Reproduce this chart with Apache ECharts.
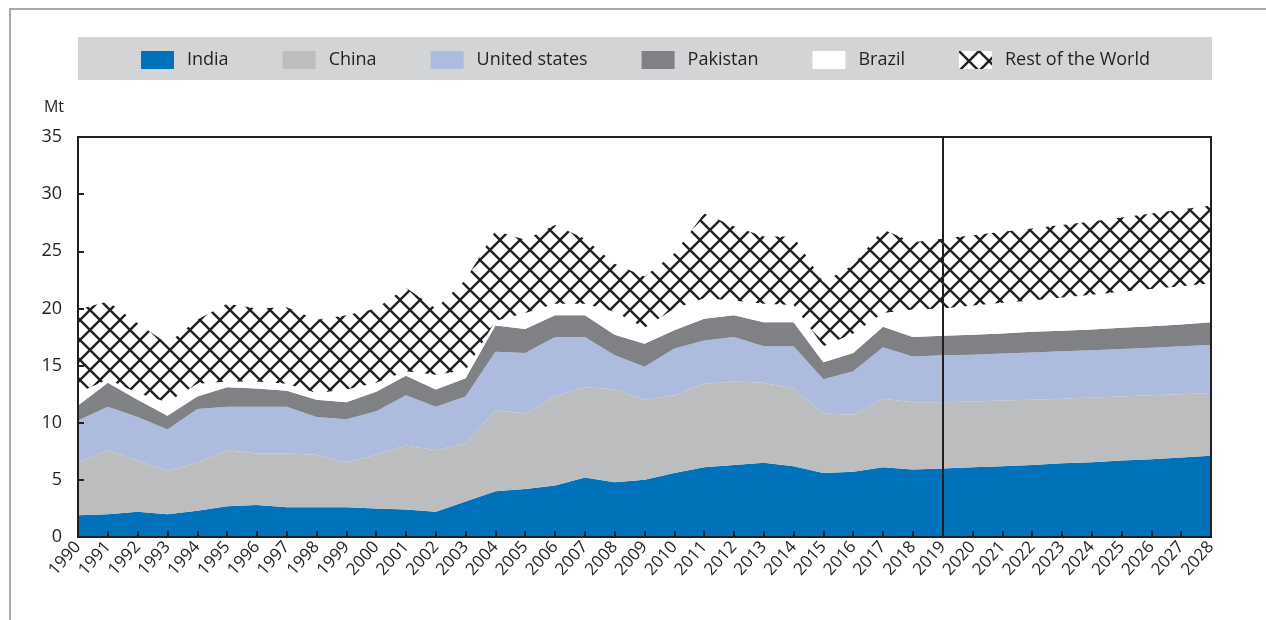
<!DOCTYPE html>
<html>
<head>
<meta charset="utf-8">
<style>
  html, body { margin: 0; padding: 0; background: #fff; }
  #chart { width: 1266px; height: 620px; }
</style>
<script src="https://cdn.jsdelivr.net/npm/echarts@6/dist/echarts.min.js"></script>
</head>
<body>
<div id="chart"></div>
<script>
// years on the x axis
const years = [];
for (let y = 1990; y <= 2028; y++) years.push(String(y));

// Mt per country (stacked)
const india = [1.9, 2.0, 2.2, 2.0, 2.3, 2.7, 2.8, 2.6, 2.6, 2.6, 2.5, 2.4, 2.2, 3.1, 4.0, 4.2, 4.5, 5.2, 4.8, 5.0,
  5.6, 6.1, 6.3, 6.5, 6.2, 5.6, 5.7, 6.1, 5.9, 6.0, 6.1, 6.2, 6.3, 6.45, 6.55, 6.7, 6.8, 6.95, 7.1];
const china = [4.6, 5.6, 4.5, 3.8, 4.2, 4.9, 4.5, 4.7, 4.6, 3.9, 4.7, 5.6, 5.4, 5.1, 7.1, 6.6, 7.8, 7.9, 8.1, 7.0,
  6.8, 7.3, 7.3, 7.0, 6.8, 5.2, 5.0, 6.0, 5.9, 5.8, 5.75, 5.75, 5.7, 5.65, 5.65, 5.6, 5.6, 5.55, 5.5];
const usa = [3.7, 3.8, 3.8, 3.6, 4.7, 3.8, 4.1, 4.1, 3.3, 3.8, 3.8, 4.4, 3.8, 4.1, 5.1, 5.3, 5.2, 4.4, 3.0, 2.9,
  4.1, 3.8, 3.9, 3.2, 3.7, 3.0, 3.8, 4.5, 4.0, 4.1, 4.1, 4.1, 4.15, 4.15, 4.15, 4.15, 4.15, 4.2, 4.2];
const pakistan = [1.3, 2.1, 1.5, 1.2, 1.1, 1.7, 1.6, 1.4, 1.5, 1.5, 1.7, 1.7, 1.5, 1.6, 2.3, 2.1, 1.9, 1.9, 1.8, 2.0,
  1.6, 1.9, 1.9, 2.1, 2.1, 1.5, 1.6, 1.8, 1.7, 1.7, 1.75, 1.75, 1.8, 1.8, 1.8, 1.85, 1.9, 1.9, 2.0];
const brazil = [1.1, 0.3, 0.6, 1.2, 1.1, 0.5, 0.6, 0.6, 0.6, 1.1, 0.8, 0.4, 1.3, 0.7, 0.4, 1.4, 1.0, 1.0, 2.0, 1.4,
  1.9, 1.8, 1.3, 1.6, 1.5, 1.4, 1.7, 1.2, 2.4, 2.4, 2.55, 2.7, 2.75, 2.9, 3.05, 3.15, 3.25, 3.35, 3.4];
const restOfWorld = [7.3, 6.8, 6.1, 5.1, 5.6, 6.8, 6.4, 6.7, 6.4, 6.5, 6.5, 7.3, 5.8, 7.9, 7.9, 6.4, 6.9, 5.7, 4.2, 4.5,
  4.8, 7.4, 6.5, 5.9, 6.0, 5.6, 6.0, 7.3, 5.9, 6.1, 6.15, 6.2, 6.3, 6.35, 6.4, 6.5, 6.6, 6.7, 6.8];

const projectionStart = '2019';

// cross hatch tile for "Rest of the World"
const hatchCanvas = document.createElement('canvas');
hatchCanvas.width = 20;
hatchCanvas.height = 20;
(function () {
  const g = hatchCanvas.getContext('2d');
  g.fillStyle = '#ffffff';
  g.fillRect(0, 0, 20, 20);
  g.strokeStyle = '#231f20';
  g.lineWidth = 2.4;
  g.beginPath();
  g.moveTo(-3, -3); g.lineTo(23, 23);
  g.moveTo(23, -3); g.lineTo(-3, 23);
  g.stroke();
})();
const hatch = { image: hatchCanvas, repeat: 'repeat' };

const ink = '#231f20';
const font = 'Open Sans';

function layer(name, data, color) {
  return {
    name: name,
    type: 'line',
    stack: 'total',
    data: data,
    showSymbol: false,
    symbol: 'none',
    lineStyle: { width: 0 },
    itemStyle: { color: color },
    areaStyle: { color: color, opacity: 1 },
    emphasis: { disabled: true }
  };
}

const chart = echarts.init(document.getElementById('chart'));
const series = [
  layer('India', india, '#0071bb'),
  layer('China', china, '#bcbdbf'),
  layer('United states', usa, '#adbbdf'),
  layer('Pakistan', pakistan, '#808184'),
  layer('Brazil', brazil, '#ffffff'),
  layer('Rest of the World', restOfWorld, hatch)
];
series[5].markLine = {
  silent: true,
  symbol: 'none',
  label: { show: false },
  lineStyle: { color: ink, width: 2, type: 'solid' },
  data: [{ xAxis: projectionStart }]
};

chart.setOption({
  animation: false,
  textStyle: { fontFamily: font },
  graphic: [
    {
      type: 'polyline', z: 0, silent: true,
      shape: { points: [[10, 620], [10, 9], [1266, 9]] },
      style: { stroke: '#a7a9ac', lineWidth: 2, fill: null }
    },
    {
      type: 'rect', z: 0, silent: true,
      shape: { x: 78, y: 37, width: 1134, height: 43 },
      style: { fill: '#d3d4d6' }
    }
  ],
  legend: {
    left: 141,
    top: 51,
    padding: 0,
    icon: 'rect',
    itemWidth: 33,
    itemHeight: 18,
    itemGap: 54,
    textStyle: { color: ink, fontSize: 18, fontFamily: font, padding: [0, 0, 0, 8] },
    data: [
      { name: 'India' },
      { name: 'China' },
      { name: 'United states' },
      { name: 'Pakistan' },
      { name: 'Brazil' },
      { name: 'Rest of the World', itemStyle: { color: hatch } }
    ]
  },
  grid: {
    left: 78, right: 55, top: 137, bottom: 83,
    containLabel: false,
    outerBoundsMode: 'none',
    show: true,
    borderColor: ink,
    borderWidth: 2,
    backgroundColor: 'transparent'
  },
  xAxis: {
    type: 'category',
    data: years,
    boundaryGap: false,
    axisLine: { lineStyle: { color: ink, width: 2 } },
    axisTick: { inside: true, length: 6, alignWithLabel: true, interval: 0, lineStyle: { color: ink, width: 2 } },
    axisLabel: { interval: 0, rotate: 48, margin: 7, color: ink, fontSize: 17, fontFamily: font },
    splitLine: { show: false },
    z: 10
  },
  yAxis: [
    {
      type: 'value',
      min: 0, max: 35, interval: 5,
      name: 'Mt',
      nameLocation: 'end',
      nameGap: 22,
      nameTextStyle: { color: ink, fontSize: 16, align: 'right', padding: [0, 14, 0, 0], fontFamily: font },
      axisLine: { show: true, lineStyle: { color: ink, width: 2 } },
      axisTick: { show: true, inside: true, length: 6, lineStyle: { color: ink, width: 2 } },
      axisLabel: { color: ink, fontSize: 18, margin: 16, fontFamily: font },
      splitLine: { show: false },
      z: 10
    },
    {
      type: 'value',
      min: 0, max: 35, interval: 5,
      position: 'right',
      axisLine: { show: true, lineStyle: { color: ink, width: 2 } },
      axisTick: { show: false },
      axisLabel: { show: false },
      splitLine: { show: false },
      z: 10
    }
  ],
  series: series
});
</script>
</body>
</html>
